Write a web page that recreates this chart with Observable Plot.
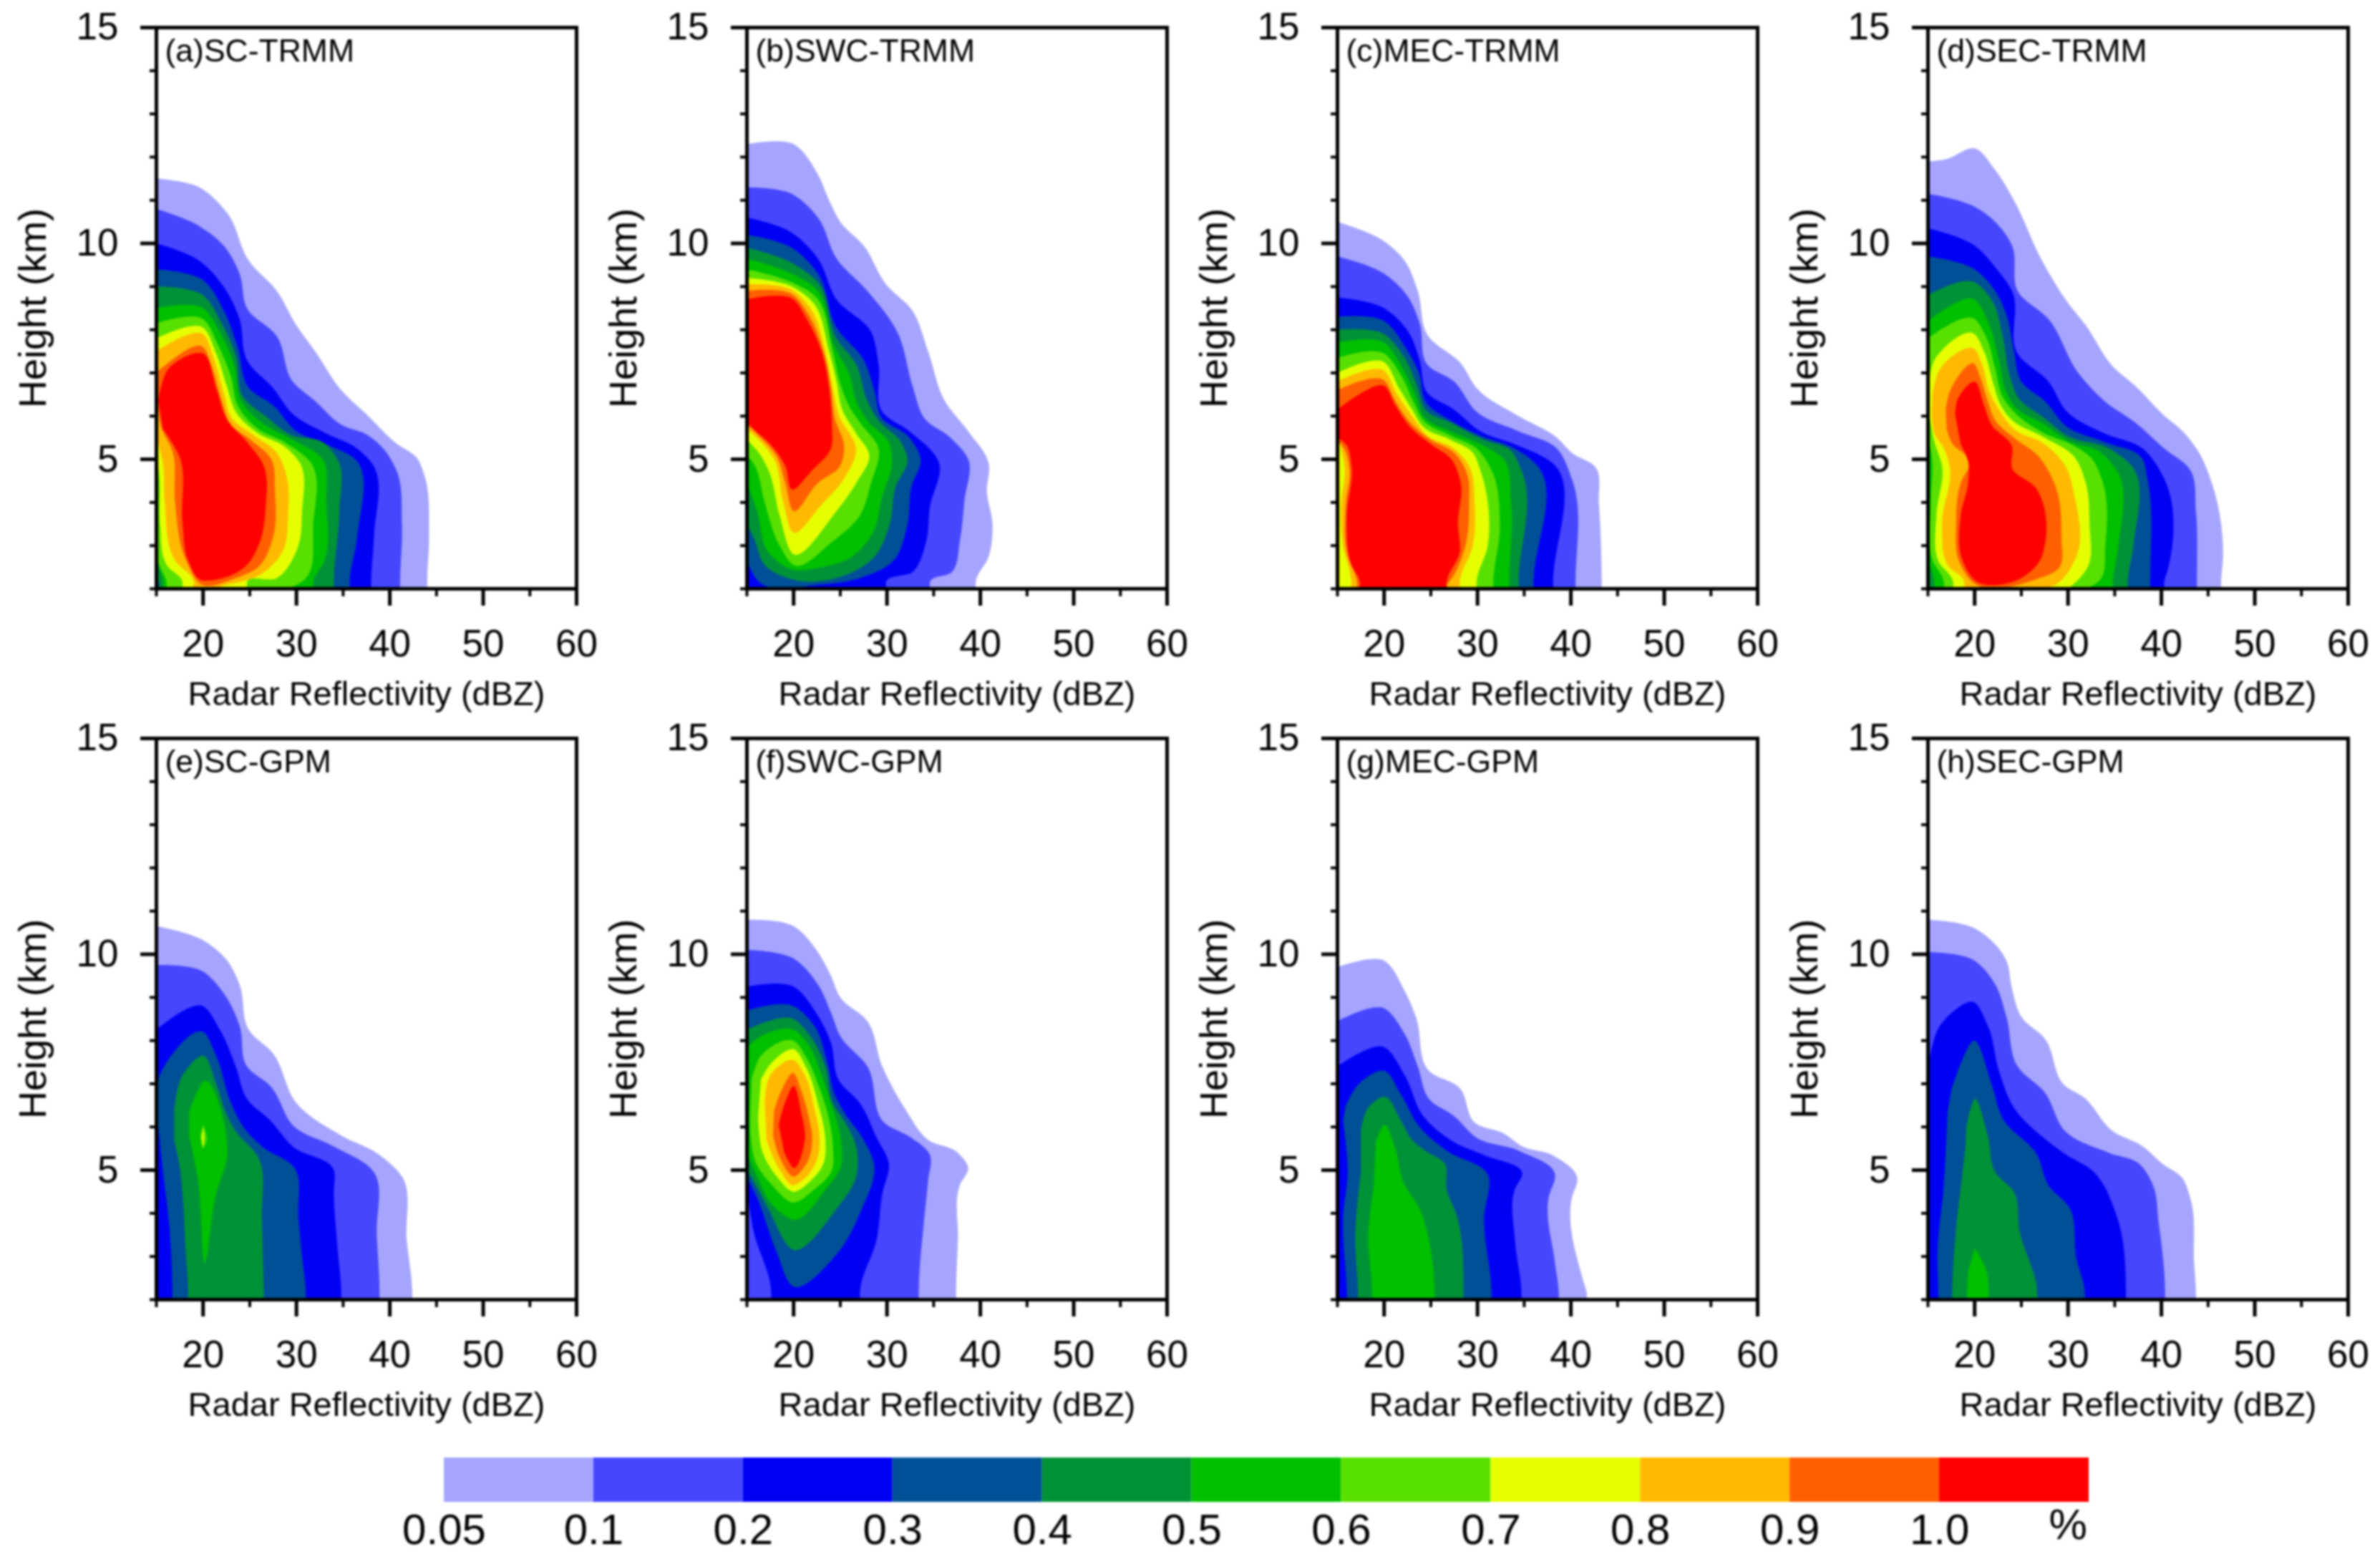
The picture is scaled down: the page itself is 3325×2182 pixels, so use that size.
<!DOCTYPE html>
<html>
<head>
<meta charset="utf-8">
<script src="https://cdn.jsdelivr.net/npm/d3@7"></script>
<script src="https://cdn.jsdelivr.net/npm/@observablehq/plot@0.6"></script>
<style>
html,body{margin:0;padding:0;background:#fff}
#chart{position:relative;width:3325px;height:2182px;overflow:hidden;background:#fff;font-family:"Liberation Sans",sans-serif;filter:blur(1.5px)}
#chart svg{position:absolute;overflow:visible;background:transparent}
</style>
</head>
<body>
<div id="chart"></div>
<script>
// contour levels (%) and their colours
const levels = [0.05,0.1,0.2,0.3,0.4,0.5,0.6,0.7,0.8,0.9,1.0];
const palette = ["#a5a5ff","#4646ff","#0000f5","#005098","#009237","#00c000","#58e000","#e6ff00","#ffb900","#ff5f00","#ff0000"];
const barLabels = ["0.05","0.1","0.2","0.3","0.4","0.5","0.6","0.7","0.8","0.9","1.0"];
const titles = ["(a)SC-TRMM","(b)SWC-TRMM","(c)MEC-TRMM","(d)SEC-TRMM","(e)SC-GPM","(f)SWC-GPM","(g)MEC-GPM","(h)SEC-GPM"];
const xMajor = [20,30,40,50,60], xMinor = [15,25,35,45,55];
const yMajor = [5,10,15], yMinor = [2,3,4,6,7,8,9,11,12,13,14];

// Each panel: one outline per level, as dBZ,km pairs.
const panelA = [
 [15,11.5, 19.6,11.3, 22.6,10.7, 24.9,9.6, 27.9,8.9, 30,8.1, 32,7.5, 34.8,6.6, 37.7,6, 40.5,5.4, 43,5, 43.6,4.7, 44.2,3.2, 44,2, 15,2],
 [15,10.8, 19.6,10.4, 22.2,9.95, 23.9,9.3, 24.7,8.5, 27.9,7.85, 29.6,6.8, 32,6.35, 34.8,5.8, 37.7,5.55, 39.3,5.25, 40.7,4.75, 41.3,3.5, 41.1,2, 15,2],
 [15,10, 19.6,9.6, 22.2,9, 23.9,8.25, 24.7,7.3, 27.5,6.65, 29.6,6.05, 33.2,5.6, 36.5,5.25, 38.1,4.9, 38.3,3.2, 38,2, 15,2],
 [15,9.4, 20,9.15, 22.2,8.45, 23.7,7.6, 24.9,6.65, 27.5,6.25, 30,5.65, 33.2,5.35, 36.3,5, 36.5,3.2, 35.7,2, 15,2],
 [15,9, 20,8.8, 22,8.15, 23.5,7.4, 24.3,6.45, 26.7,6, 29.6,5.55, 32.8,5.4, 34.4,5, 34.6,3.8, 34,2, 15.3,2, 15,2.3],
 [15,8.5, 20,8.5, 21.8,7.95, 23.3,7.2, 24.1,6.35, 26.3,5.85, 29.6,5.45, 32.8,5, 33.2,4, 33,2.65, 31.8,2, 15.7,2, 15,2.7],
 [15,8.15, 20,8.25, 21.6,7.65, 23,6.9, 23.7,6.25, 25.9,5.7, 28.7,5.4, 31.6,4.9, 31.8,3.5, 30.8,2.2, 29.1,2, 16.1,2, 15.3,2.55, 15,3.2],
 [15,7.8, 20,8.05, 21.4,7.45, 22.6,6.65, 23.5,6.1, 25.9,5.6, 28.7,5.3, 30.4,4.9, 30.6,3.8, 30.2,3, 27.9,2.25, 24.7,2, 17.8,2, 16.1,2.55, 15.4,3.5, 15.3,4.65, 15,5.1],
 [15,7.5, 20,7.9, 21.2,7.3, 22.2,6.55, 23.1,5.95, 25.5,5.55, 27.9,5.15, 28.9,4.65, 29.1,3.7, 28.5,2.85, 26.3,2.35, 22.6,2.1, 19,2, 17,2.65, 15.9,4, 15.7,4.9, 15,5.55],
 [15,7, 20,7.6, 21,7.1, 22,6.35, 23,5.8, 25.1,5.45, 27.3,5, 27.7,4.25, 27.5,3.2, 25.9,2.5, 23.5,2.25, 19.8,2.1, 18.2,2.65, 17,4, 16.7,5.2, 15.5,5.75, 15.2,6.15, 15,6.45],
 [15.2,6.35, 16.3,7.1, 20,7.45, 21.4,6.65, 22.6,5.9, 24.7,5.4, 26.5,4.85, 26.7,3.9, 26.1,3.1, 24.7,2.55, 21,2.2, 19.8,2.2, 18.4,2.65, 17.8,3.5, 17.4,5.1, 15.7,5.7]
];
const panelB = [
 [15,12.3, 20,12.3, 22.6,11.6, 23.8,11, 25,10.5, 27.5,9.95, 29.9,9.05, 32.7,8.45, 34.4,7.5, 36.2,6.35, 38.7,5.65, 40.9,4.9, 40.7,4.25, 41.3,3.5, 40.9,2.75, 39.5,2, 15,2],
 [15,11.3, 19.8,11.15, 22.6,10.6, 24.6,9.65, 27.9,8.9, 31.1,7.95, 32.8,6.65, 34,5.95, 36.8,5.5, 38.7,5, 38.3,4.05, 37.8,3.1, 37,2.4, 34.6,2, 15,2],
 [15,10.6, 19.8,10.25, 22.6,9.65, 24.6,8.7, 28.3,7.95, 29.1,7.2, 29.5,6.1, 32.4,5.65, 35.6,4.9, 34.6,3.9, 34.2,3.1, 32.8,2.4, 29.9,2, 15,2],
 [15,10.2, 19.8,9.9, 22.6,9.3, 24.6,8.05, 27.5,7.3, 28.7,6.55, 29.3,6, 32.4,5.5, 33.6,5, 32.6,4.35, 32.2,3.5, 30.7,2.65, 27.1,2.25, 23,2.1, 16.1,2.2, 15,2.65],
 [15,9.9, 19.8,9.55, 22.6,9.1, 24.6,7.8, 26.7,7.2, 27.9,6.35, 29.1,5.9, 31.5,5.4, 32.2,5, 30.9,4.35, 30.3,3.5, 28.7,2.75, 24.6,2.25, 20.2,2.2, 16.9,2.55, 15.7,3.2, 15,3.5],
 [15,9.65, 19.8,9.3, 22.4,8.95, 24.4,7.6, 25.9,7, 26.9,6.25, 27.9,5.9, 30.3,5.35, 30.5,4.85, 29.5,4.15, 28.5,3.3, 26.3,2.75, 23,2.5, 19.8,2.45, 17.3,2.85, 16.1,3.8, 15,4.45],
 [15,9.4, 19.8,9.1, 22.2,8.8, 24.2,7.5, 25,6.75, 25.9,6.25, 27.1,5.85, 29.1,5.25, 28.3,4.45, 27.1,3.7, 24.2,3.1, 20,2.55, 18.5,3, 16.9,4, 15.7,4.9, 15,5.1],
 [15,9.2, 19.8,9, 22,8.65, 23.8,7.5, 24.6,6.8, 25.2,6.15, 26.7,5.6, 28.1,5.1, 26.7,4.45, 24.6,3.8, 20,2.8, 18.5,3.7, 17.3,4.75, 16.1,5.2, 15,5.45],
 [15,9.05, 20,8.9, 21.8,8.5, 23.4,7.5, 24.2,6.65, 24.8,6.05, 26.7,5.2, 25.4,4.55, 23,3.95, 20,3.3, 18.9,4, 17.9,5, 16.5,5.4, 15,5.7],
 [15,8.9, 20,8.8, 21.6,8.35, 23.2,7.5, 24,6.65, 24.4,5.95, 25.4,5.3, 25,4.85, 22.6,4.45, 20,3.8, 19.1,4.45, 18.1,5.1, 16.7,5.45, 15,5.8],
 [15,8.7, 20,8.7, 21.4,8.25, 23,7.5, 23.8,6.65, 24.1,5.8, 24,5.25, 22,4.75, 19.8,4.3, 19.1,4.85, 17.7,5.3, 15.7,5.7, 15,5.85]
];
const panelC = [
 [15,10.5, 20,10.05, 22.2,9.6, 23.6,8.9, 24.6,7.9, 28.3,7.2, 29.9,6.65, 34.4,6, 38.5,5.5, 40.1,5.15, 42.7,4.8, 43,4, 43.3,2, 15,2],
 [15,9.7, 20,9.3, 22.6,8.75, 23.8,8.15, 24.6,7.2, 27.5,6.8, 29.9,6.1, 34.4,5.65, 38.5,5.25, 40.1,4.55, 40.5,2, 15,2],
 [15,8.75, 20,8.5, 22.6,7.95, 23.8,7.3, 24.6,6.55, 27.5,6.15, 30.3,5.65, 34,5.35, 38.1,4.9, 38.1,2, 15,2],
 [15,8.3, 20,8.2, 22.4,7.55, 23.8,6.95, 24.4,6.35, 27.1,5.9, 30.3,5.55, 34,5.25, 36.2,4.9, 36,2, 15,2],
 [15,8, 20,7.9, 22.2,7.35, 23.6,6.65, 24.4,6.15, 27.1,5.85, 30.7,5.45, 33.6,5.2, 34.7,4.75, 34.4,2, 15,2],
 [15,7.7, 20,7.7, 22,7.1, 23.4,6.45, 24.2,6, 27.1,5.65, 30.3,5.35, 32.8,5, 33.6,4, 33.4,2, 15,2],
 [15,7.35, 20,7.45, 21.8,6.95, 23.2,6.3, 24.2,5.9, 27.1,5.55, 29.9,5.25, 31.5,4.75, 32.4,3.5, 31.7,2, 15,2],
 [15,7, 20,7.25, 21.6,6.65, 23,6.15, 24.2,5.75, 27.1,5.45, 29.5,5.15, 30.3,4.75, 31.1,4, 31.1,3, 29.9,2, 15,2],
 [15,6.8, 20,7.05, 21.4,6.5, 23,6, 24.6,5.55, 27.5,5.25, 29.1,4.85, 29.7,4, 29.5,3, 28.1,2, 16.5,2, 15.6,3, 15.4,4, 15.8,4.75, 15.3,5.3, 15,5.5],
 [15,6.6, 20,6.83, 21.2,6.35, 23,5.8, 25,5.45, 27.5,5.15, 28.9,4.65, 29.1,4, 28.7,3, 27.1,2.2, 26.3,2, 17.1,2, 16.1,2.75, 15.9,4, 16.3,4.75, 15.7,5.25, 15,5.45],
 [15,6.15, 16.9,6.45, 20,6.7, 21.2,6.25, 23,5.7, 25,5.35, 27.2,5, 28.2,4.45, 27.9,3.5, 28.1,2.85, 26.7,2, 17.4,2, 16.5,2.55, 16,3.7, 16.5,4.85, 15.9,5.35, 15,5.5]
];
const panelD = [
 [15,11.9, 16.9,11.95, 20,12.2, 22.2,11.7, 24.2,11, 27.1,9.65, 29.9,8.65, 31.9,8.1, 34.8,7.15, 37.2,6.7, 40.1,6.05, 42.5,5.6, 43.9,5.2, 45.4,4.45, 46.4,3.5, 46.6,2.75, 46.4,2, 15,2],
 [15,11.15, 20,10.85, 22.2,10.5, 24,9.95, 24.6,8.9, 27.9,8.25, 31.1,7, 33.9,6.35, 37.2,5.85, 40.3,5.25, 43.1,4.75, 43.7,3.8, 43.8,2, 15,2],
 [15,10.35, 20,9.95, 22.2,9.45, 24,8.9, 24.6,7.45, 27.9,6.8, 29.9,6.1, 33.9,5.6, 38,5.25, 40.3,4.55, 40.7,2.45, 40.3,2, 15,2],
 [15,9.7, 20,9.4, 22.2,8.9, 23.4,8.35, 24.2,7.5, 25,6.8, 27.5,6.35, 29.9,5.75, 33.9,5.4, 38,5, 38.5,4.55, 38.8,2, 15,2],
 [15,8.8, 20,9.1, 21.8,8.7, 23,7.85, 23.8,6.9, 24.6,6.45, 27.5,5.95, 29.9,5.55, 34.4,5.25, 36.8,4.85, 37,3, 36.4,2, 15,2],
 [15,8.2, 20,8.7, 21.4,8.2, 22.6,7.3, 23.4,6.55, 24.2,6.25, 27.5,5.8, 30.3,5.4, 33.2,5.2, 35.2,4.75, 35.4,3, 34.8,2, 15.7,2, 15,2.65],
 [15,7.8, 20,8.25, 21.2,7.85, 22.2,7.1, 23,6.45, 24,6.15, 27.5,5.6, 30.3,5.35, 32.6,5, 33.6,4.55, 34,3, 33.4,2.2, 32,2, 16.7,2, 15.5,2.65, 15.3,4, 15.4,5.1, 15,5.5],
 [15,6.55, 15.7,7.3, 20,7.9, 21,7.5, 22,6.75, 22.8,6.25, 23.8,5.95, 27.5,5.5, 30.7,5.05, 31.9,4.45, 32.3,3.5, 32.1,2.5, 30.3,2.05, 17.7,2, 16.1,2.65, 15.9,3.7, 16.5,4.85, 15.7,5.4, 15.2,5.95],
 [15.5,6.55, 16.3,7.1, 20,7.55, 20.8,7.2, 21.6,6.55, 22.6,6.15, 24.2,5.7, 27.5,5.35, 29.7,4.85, 30.7,4.15, 30.9,2.75, 28.7,2.1, 25.4,2, 18.9,2, 17.1,2.55, 16.5,3.5, 17.3,4.85, 16.7,5.25, 15.7,5.6, 15.4,6.1],
 [16.9,6.15, 17.3,6.55, 20,7.2, 20.6,6.9, 21.4,6.35, 22.2,5.9, 24.2,5.5, 26.7,5.1, 28.7,4.35, 29.3,3.2, 29.1,2.5, 26.3,2.2, 19.8,2.15, 18.3,2.65, 18,3.5, 18.5,4.45, 19.5,4.95, 17.5,5.4, 17,5.7],
 [17.9,6.05, 18.1,6.35, 20,6.8, 21,6.25, 21.8,5.8, 24,5.3, 24,4.8, 26.5,4.35, 27.5,3, 27.1,2.7, 25,2.25, 20,2.2, 18.7,2.65, 18.5,3.7, 19.3,4.45, 19.3,4.95, 18.5,5.35]
];
const panelE = [
 [15,10.65, 20.2,10.3, 22.6,9.85, 23.9,9.3, 24.9,8.25, 27.5,7.7, 30,6.55, 34.8,5.8, 38.9,5.35, 41.3,4.85, 41.8,3.4, 42.4,2, 15,2],
 [15,9.75, 20,9.6, 22.2,9.1, 23.9,8.35, 24.7,7.4, 27.2,6.95, 29.8,6, 34,5.55, 38.3,4.95, 38.6,3.5, 38.9,2, 15,2],
 [15,8.25, 20,8.8, 21.8,8.25, 23.5,7.4, 24.7,6.65, 27.2,6.15, 29.6,5.55, 34,5, 34,4.45, 34.4,3.2, 34.8,2, 15,2],
 [15.1,6.25, 15.2,7.1, 16.1,7.5, 20,8.2, 21.4,7.65, 23,6.55, 24.3,6, 26.3,5.55, 29.8,5.05, 30.2,3.9, 30.6,3, 31,2, 16.7,2, 16.3,3.9, 15.7,4.95],
 [16.9,6.35, 17.8,7.2, 20,7.65, 21.4,7, 22.6,6.25, 23.5,5.9, 25.9,5.3, 26.3,3.9, 26.4,3, 26.5,2, 18.4,2, 18.1,3.2, 17.8,4.45, 17.4,5.2, 16.9,5.7],
 [18.5,6.35, 20,7.05, 22.6,5.35, 21.4,4.45, 20.2,2.85, 19.4,4.85, 18.5,5.8],
 [20,6.05, 20.4,5.7, 20,5.5, 19.7,5.8],
 [20,6, 20.1,5.75, 20,5.55, 19.85,5.75],
 [], [], []
];
const panelF = [
 [15,10.8, 20,10.65, 22.6,10.05, 24,9.5, 25,9, 27.9,8.45, 29.5,7.4, 32,6.4, 34.4,5.7, 37.6,5.4, 38.7,5.05, 37.8,4.65, 37.6,3.4, 37.4,2, 15,2],
 [15,10.1, 20,9.9, 22.6,9.3, 24,8.65, 25,8.1, 27.9,7.4, 29.7,6.1, 32.6,5.75, 34.6,5.35, 34.4,4.75, 34,3.9, 33.4,2, 15,2],
 [15,9.25, 20,9.25, 22.4,8.65, 24,7.95, 24.8,7.1, 27.1,6.55, 28.9,5.75, 30.2,5.15, 29.5,4.45, 28.9,3.4, 27.1,2, 17.6,2, 15.7,3.6, 15,4.55],
 [15,8.7, 20,8.8, 22.2,8.35, 23.6,7.5, 24.4,6.75, 25.4,6.35, 27.5,5.7, 28.6,5.15, 27.1,4, 24.6,3.05, 20,2.3, 18.1,3.15, 16.1,4.35, 15,4.85],
 [15,8.25, 20,8.5, 21.8,8.1, 23.4,7.4, 24.2,6.55, 25.4,6.15, 26.7,5.55, 26.7,4.85, 24.6,4.1, 20,3.15, 17.3,4.1, 15.7,4.75, 15,5],
 [15,7.85, 16.5,8.1, 20,8.25, 21.6,7.9, 23,7.2, 24,6.55, 25,5.8, 25,5.05, 23.4,4.55, 20,3.85, 17.7,4.2, 16.1,4.85, 15,5.4],
 [15.5,7.1, 16.5,7.65, 20,8, 21.4,7.6, 22.6,7, 23.6,6.35, 24.2,5.6, 24,4.95, 22.2,4.55, 20,4.25, 17.7,4.65, 15.9,5.2, 15.4,5.8, 15.4,6.55],
 [16.5,7.1, 17.7,7.5, 20,7.8, 21.4,7.35, 22.6,6.55, 23.4,5.7, 23.2,5.15, 21.8,4.75, 20,4.5, 18.2,4.85, 16.7,5.4, 16.2,6.25],
 [16.9,6.55, 17.5,7.2, 20,7.55, 21.2,7.2, 22.2,6.45, 22.8,5.7, 22.6,5.3, 21.4,4.85, 20,4.65, 18.4,5.05, 17.1,5.7],
 [17.9,6.35, 18.5,6.75, 20,7.25, 20.8,6.85, 21.6,6.25, 22,5.7, 21.6,5.25, 20,4.85, 18.5,5.3, 17.8,5.8],
 [18.4,6.05, 18.9,6.45, 20,6.95, 20.8,6.35, 21.2,5.7, 20,5.05, 19,5.4]
];
const panelG = [
 [15,9.7, 20,9.85, 22.2,9.15, 23.4,8.55, 24.8,7.3, 28.1,6.9, 29.7,6.1, 32.8,5.85, 34.8,5.55, 38,5.35, 40.7,4.8, 40.1,4.35, 41.3,2.45, 41.7,2, 15,2],
 [15,8.45, 20,8.75, 22.2,8.15, 23.6,7.4, 24.8,6.65, 27.5,6.25, 29.9,5.75, 34.4,5.45, 38.3,4.9, 37.6,4.35, 38.3,2.85, 38.7,2, 15,2],
 [15,7.4, 20,7.85, 22.2,7.2, 24.2,6.25, 27.5,5.65, 30.7,5.35, 34.8,4.9, 34,4.55, 34,3.4, 34.7,2, 15,2],
 [15.9,6.5, 17.3,7, 20,7.3, 21.8,6.75, 23.8,6, 26.7,5.45, 31.1,4.9, 30.7,3.9, 31.5,2, 16,2, 15.6,3.9, 16.1,4.95, 15.6,6.15],
 [17.5,5.9, 18.3,6.45, 20,6.7, 21.8,6.15, 23,5.7, 24.4,5.45, 26.5,5.15, 26.7,4.55, 27.7,4, 28.5,2, 17.2,2, 16.9,3.4, 17.5,4.95],
 [19.1,5.65, 20,6.05, 21.2,5.5, 22,4.75, 23.8,4.1, 25,3.15, 25.4,2, 18.7,2, 18.3,3.5, 18.9,4.65],
 [], [], [], [], []
];
const panelH = [
 [15,10.8, 20,10.6, 23.4,9.85, 24,9.2, 25,8.55, 27.5,8.05, 29.7,6.95, 31.6,6.7, 34.8,5.9, 38,5.55, 40.1,5.15, 42.3,4.8, 43.1,4.35, 43.5,2.85, 43.7,2, 15,2],
 [15,10.05, 20,9.85, 22.2,9.3, 23.4,8.55, 24.6,7.4, 27.5,6.8, 29.7,5.9, 34.4,5.4, 37.6,5.15, 39.1,4.65, 39.7,3.8, 40.4,2, 15,2],
 [15,7.3, 16.3,8.35, 17.3,8.6, 19.8,8.9, 21.4,8.35, 22.6,7.3, 24.2,6.45, 27.1,5.8, 29.5,5.4, 32.8,4.95, 35.2,3.95, 36.2,2, 15,2],
 [17.5,6.85, 20,8, 21.8,7, 23,6.2, 26.7,5.35, 27.9,4.65, 30.1,4.15, 30.9,2.95, 31.8,2, 16.1,2, 16,3.05, 16.7,4.65, 17.1,6.35],
 [19.1,6, 20,6.65, 21.4,5.8, 22.2,4.95, 24.2,4.5, 24.8,3.6, 26.7,2, 17.6,2, 17.9,3.4, 18.7,4.95, 19,5.5],
 [20,3.2, 21.3,2.65, 21.5,2, 19.2,2, 19.3,2.65],
 [], [], [], [], []
];

const panels = [panelA,panelB,panelC,panelD,panelE,panelF,panelG,panelH];
const panelLeft = [218,1043,1868,2693];
const rowTop = [38,1031];
const W = 587, H = 784, ML = 210, MR = 40, MT = 40, MB = 180;
const font = '"Liberation Sans", sans-serif';
const chart = document.getElementById("chart");

// Contours meet the ground line squarely: keep a short upright foot where a
// contour lands on the 2 km floor, so the smoothing curve does not bulge there.
const FOOT = 2.15;
function rows(polys){
  return polys.flatMap((p,i)=>{
    const out = [], n = p.length/2;
    for (let k=0;k<n;k++){
      const x=p[2*k], y=p[2*k+1];
      const prevY = k>0 ? p[2*k-1] : null, nextY = k<n-1 ? p[2*k+3] : null;
      if (y===2 && prevY!==null && prevY>2.2) out.push({level:levels[i],x,y:FOOT});
      out.push({level:levels[i],x,y});
      if (y===2 && nextY!==null && nextY>2.2) out.push({level:levels[i],x,y:FOOT});
    }
    return out;
  });
}
panels.forEach((polys,idx)=>{
  const col = idx%4, row = idx<4?0:1;
  const svg = Plot.plot({
    width:ML+W+MR, height:MT+H+MB,
    marginLeft:ML, marginRight:MR, marginTop:MT, marginBottom:MB,
    style:{fontFamily:font,color:"#000",background:"transparent",overflow:"visible"},
    x:{domain:[15,60],axis:null},
    y:{domain:[2,15],axis:null},
    color:{type:"ordinal",domain:levels,range:palette},
    marks:[
      Plot.line(rows(polys),{x:"x",y:"y",z:"level",fill:"level",stroke:"none",curve:"catmull-rom",tension:1,clip:true}),
      Plot.axisX({anchor:"bottom",ticks:xMinor,tickSize:11,strokeWidth:4,stroke:"#000",text:null,label:null}),
      Plot.axisX({anchor:"bottom",ticks:xMajor,tickSize:24,tickPadding:33,strokeWidth:5,stroke:"#000",fontSize:53,label:null,tickFormat:d=>d}),
      Plot.axisY({anchor:"left",ticks:yMinor,tickSize:9,strokeWidth:4,stroke:"#000",text:null,label:null}),
      Plot.axisY({anchor:"left",ticks:yMajor,tickSize:22,tickPadding:31,strokeWidth:5,stroke:"#000",fontSize:53,label:null,tickFormat:d=>d}),
      Plot.frame({stroke:"#000",strokeWidth:5}),
      Plot.text([titles[idx]],{frameAnchor:"top-left",dx:12,dy:33,lineAnchor:"middle",textAnchor:"start",fontSize:44.5,fill:"#000"}),
      Plot.text(["Height (km)"],{frameAnchor:"left",dx:-172,rotate:-90,textAnchor:"middle",lineAnchor:"middle",fontSize:54,fill:"#000"}),
      Plot.text(["Radar Reflectivity (dBZ)"],{frameAnchor:"bottom",dy:147,textAnchor:"middle",lineAnchor:"middle",fontSize:47,fill:"#000"})
    ]
  });
  svg.style.left=(panelLeft[col]-ML)+"px";
  svg.style.top=(rowTop[row]-MT)+"px";
  chart.appendChild(svg);
});

// colour bar
const barX = d3.range(levels.length);
const bar = Plot.plot({
  width:2298+200, height:62+120,
  marginLeft:100, marginRight:100, marginTop:0, marginBottom:120,
  style:{fontFamily:font,color:"#000",background:"transparent",overflow:"visible"},
  x:{domain:[0,11],axis:null},
  y:{domain:[0,1],axis:null},
  color:{type:"ordinal",domain:levels,range:palette},
  marks:[
    Plot.rect(barX,{x1:d=>d,x2:d=>d+1,y1:0,y2:1,fill:d=>levels[d]}),
    Plot.axisX({anchor:"bottom",ticks:barX,tickSize:0,tickPadding:16,fontSize:60,label:null,tickFormat:d=>barLabels[d]}),
    Plot.text(["%"],{x:10.86,frameAnchor:"bottom",dy:32,lineAnchor:"middle",textAnchor:"middle",fontSize:60,fill:"#000"})
  ]
});
bar.style.left=(620-100)+"px";
bar.style.top="2036px";
chart.appendChild(bar);
</script>
</body>
</html>
